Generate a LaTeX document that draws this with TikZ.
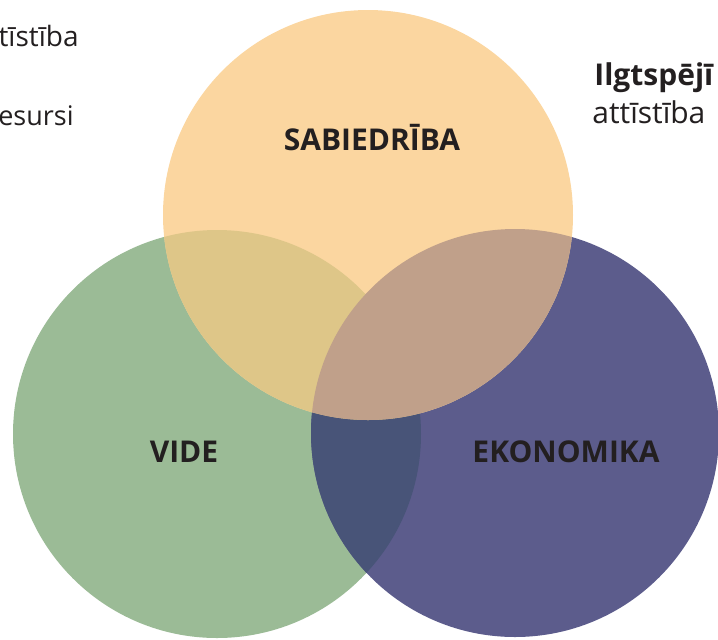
\documentclass[tikz,border=0pt]{standalone}
\usepackage{fontspec}
\setmainfont{Open Sans}
\definecolor{sabcol}{RGB}{251,214,160}
\definecolor{vidcol}{RGB}{155,187,150}
\definecolor{ekocol}{RGB}{92,92,140}
\definecolor{sabvid}{RGB}{222,198,136}
\definecolor{sabeko}{RGB}{192,160,138}
\definecolor{videko}{RGB}{72,84,120}
\definecolor{txtcol}{RGB}{35,31,32}
\tikzset{
  circlabel/.style={font=\fontsize{15}{18}\selectfont\bfseries, text=txtcol, inner sep=0pt},
  sidetext/.style={font=\fontsize{15}{18}\selectfont, text=txtcol, inner sep=0pt}
}
\begin{document}
\begin{tikzpicture}[x=0.5pt, y=-0.5pt]
    \useasboundingbox (0,0) rectangle (718,639);

    % circles
    \fill[fill=vidcol] (217,434) circle (204);
    \fill[fill=ekocol] (515,433) circle (204);
    \fill[fill=sabcol] (368,215) circle (205);

    % overlaps
    \begin{scope}
      \clip (217,434) circle (204);
      \fill[fill=videko] (515,433) circle (204);
    \end{scope}
    \begin{scope}
      \clip (368,215) circle (205);
      \fill[fill=sabvid] (217,434) circle (204);
      \fill[fill=sabeko] (515,433) circle (204);
    \end{scope}

    % labels
    \node[circlabel] (sabiedriba) at (372,138) {SABIEDRĪBA};
    \node[circlabel] (vide) at (184,452) {VIDE};
    \node[circlabel] (ekonomika) at (566,452) {EKONOMIKA};

    \node[sidetext, anchor=base east, font=\fontsize{14}{17}\selectfont] (attistiba) at (79,46) {tīstība};
    \node[sidetext, anchor=base east, font=\fontsize{13.5}{16}\selectfont] (resursi) at (74,125) {esursi};
    \node[sidetext, anchor=base west, font=\fontsize{15}{18}\selectfont\bfseries] (ilgtspejiga) at (594,85) {Ilgtspējī};
    \node[sidetext, anchor=base west] (attistiba2) at (592,123) {attīstība};
\end{tikzpicture}
\end{document}
